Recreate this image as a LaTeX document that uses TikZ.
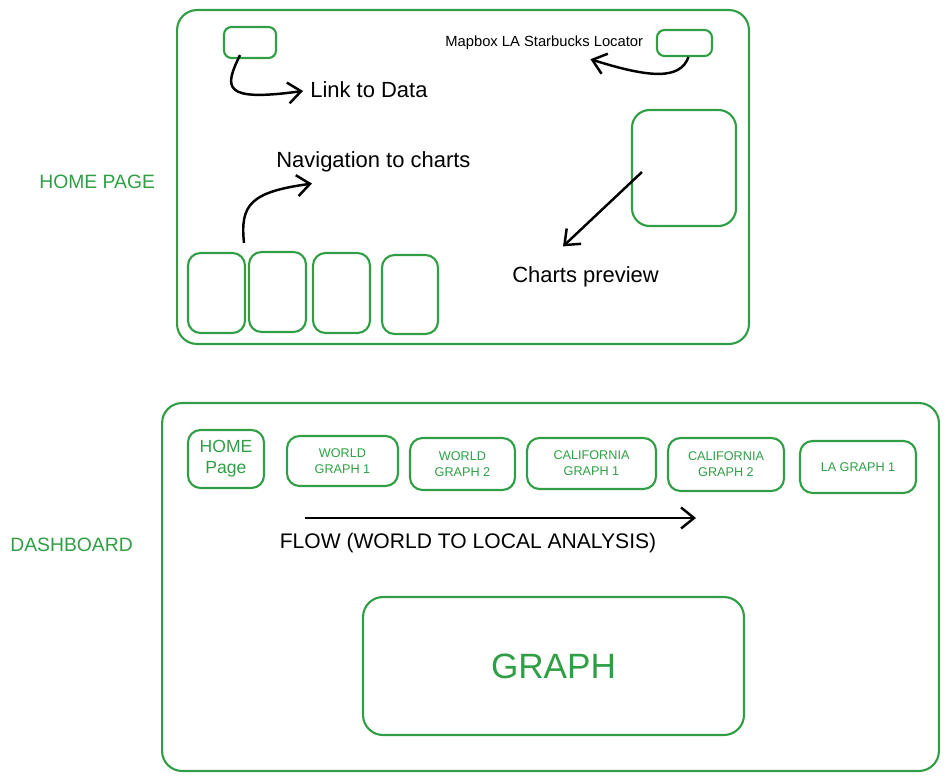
\documentclass[tikz,border=0pt]{standalone}
\usepackage{fontspec}
\setmainfont{Liberation Sans}
\usetikzlibrary{arrows.meta}
\definecolor{sketchgreen}{RGB}{47,158,68}
\tikzset{
  >={Straight Barb[length=2.6mm,width=4.2mm]},
  frame/.style={draw=sketchgreen, line width=1.2pt, rounded corners=0.4cm, inner sep=0pt},
  box/.style={draw=sketchgreen, line width=1.2pt, rounded corners=0.25cm, inner sep=0pt,
    text=sketchgreen, align=center, font=\fontsize{7.2}{9}\selectfont},
  note/.style={anchor=west, inner sep=0pt, font=\fontsize{12.5}{15}\selectfont},
  title/.style={anchor=west, inner sep=0pt, text=sketchgreen, font=\fontsize{11}{13}\selectfont},
  arr/.style={->, line width=1.4pt, black}
}
\begin{document}
\begin{tikzpicture}[x=0.02cm, y=-0.02cm]
    \useasboundingbox (0,0) rectangle (949,781);
    % home page
    \node[frame, minimum width=11.44cm, minimum height=6.68cm] (home) at (463,177) {};
    \node[title] (homelabel) at (39,182) {HOME PAGE};
    \node[box, rounded corners=0.15cm, minimum width=1.04cm, minimum height=0.62cm] (linkbox) at (250,42.5) {};
    \node[box, rounded corners=0.15cm, minimum width=1.1cm, minimum height=0.52cm] (mapbox) at (684.5,43) {};
    \node[box, rounded corners=0.35cm, minimum width=2.08cm, minimum height=2.32cm] (preview) at (684,168) {};
    \node[box, minimum width=1.14cm, minimum height=1.6cm] (nav1) at (216.5,293) {};
    \node[box, minimum width=1.14cm, minimum height=1.6cm] (nav2) at (277.5,292) {};
    \node[box, minimum width=1.14cm, minimum height=1.6cm] (nav3) at (341.5,293) {};
    \node[box, minimum width=1.12cm, minimum height=1.58cm] (nav4) at (410,294.5) {};
    \node[note] (linklabel) at (310,90) {Link to Data};
    \node[note, font=\fontsize{8.4}{10}\selectfont] (maplabel) at (445,43) {Mapbox LA Starbucks Locator};
    \node[note] (navlabel) at (276,162) {Navigation to charts};
    \node[note] (previewlabel) at (512,277) {Charts preview};
    \draw[arr, shorten >=4pt] ([shift={(-10,-4)}]linkbox.south) .. controls (224,88) and (222,102) .. (linklabel.west);
    \draw[arr] ([shift={(4,0)}]mapbox.south) .. controls (680,80) and (650,78) .. ([shift={(-53,9)}]maplabel.south east);
    \draw[arr] ([shift={(27.5,-9)}]nav1.north) .. controls (240,205) and (250,192) .. ([shift={(36,11)}]navlabel.south west);
    \draw[arr] ([shift={(11,4)}]preview.west) -- ([shift={(51,-20)}]previewlabel.north west);
    % dashboard
    \node[frame, minimum width=15.54cm, minimum height=7.36cm] (dash) at (550.5,587) {};
    \node[title] (dashlabel) at (10,545) {DASHBOARD};
    \node[box, font=\fontsize{10}{12}\selectfont, minimum width=1.52cm, minimum height=1.16cm] (homebtn) at (226,459) {HOME\\Page};
    \node[box, minimum width=2.22cm, minimum height=1.0cm] (world1) at (342.5,461) {WORLD\\GRAPH 1};
    \node[box, minimum width=2.1cm, minimum height=1.04cm] (world2) at (462.5,464) {WORLD\\GRAPH 2};
    \node[box, minimum width=2.58cm, minimum height=1.02cm] (calif1) at (591.5,463.5) {CALIFORNIA\\GRAPH 1};
    \node[box, minimum width=2.32cm, minimum height=1.06cm] (calif2) at (726,464.5) {CALIFORNIA\\GRAPH 2};
    \node[box, minimum width=2.32cm, minimum height=1.04cm] (lagraph) at (858,467) {LA GRAPH 1};
    \coordinate (flowstart) at (305,518);
    \coordinate (flowend) at (696,518);
    \draw[arr] (flowstart) -- (flowend);
    \node[inner sep=0pt, font=\fontsize{12}{14}\selectfont] (flowlabel) at (468,543) {FLOW (WORLD TO LOCAL ANALYSIS)};
    \node[box, rounded corners=0.4cm, font=\fontsize{20}{24}\selectfont, minimum width=7.62cm, minimum height=2.76cm] (graph) at (553.5,666) {\raisebox{-0.1cm}{GRAPH}};
\end{tikzpicture}
\end{document}
